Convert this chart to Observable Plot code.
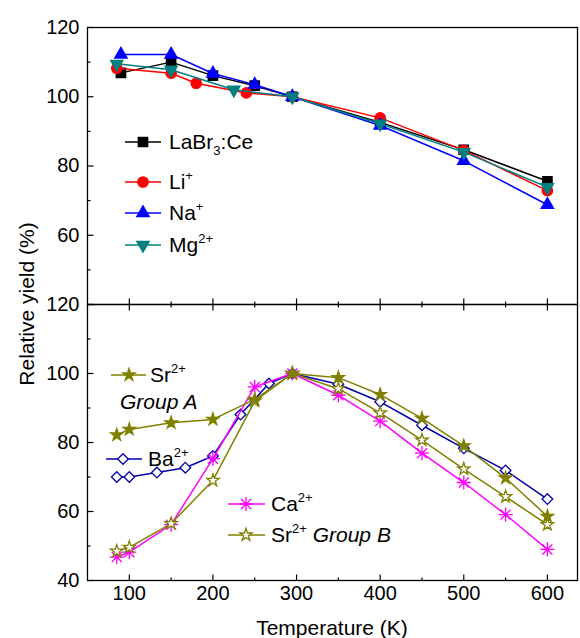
<!DOCTYPE html>
<html><head><meta charset="utf-8">
<script src="https://cdn.jsdelivr.net/npm/d3@7"></script>
<script src="https://cdn.jsdelivr.net/npm/@observablehq/plot@0.6"></script>
<style>
body{margin:0;background:#fff;}
#wrap{position:relative;width:580px;height:638px;font-family:"Liberation Sans",Arial,sans-serif;}
#wrap svg{position:absolute;left:0;overflow:visible;}
</style></head><body><div id="wrap"></div>
<script>
// ---- data (top panel) ----
const tempLaBr = [90,150,200,250,295,400,500,600];
const yieldLaBr = [106.9,110.0,106.1,103.2,100,92.6,84.7,75.6];
const tempLi = [85,150,180,240,295,400,500,600];
const yieldLi = [108.2,106.8,103.9,101.1,100,93.9,84.5,72.9];
const tempNa = [90,150,200,250,295,400,500,600];
const yieldNa = [112.2,112.2,106.7,103.5,100,91.7,81.5,68.8];
const tempMg = [85,150,225,295,400,500,600];
const yieldMg = [109.5,107.8,102,100,92.2,84,73.9];
// ---- data (bottom panel) ----
const tempSrA = [85,100,150,200,250,295,350,400,450,500,550,600];
const yieldSrA = [82.2,83.8,85.7,86.7,92.5,100,98.8,93.9,87,79,69.7,58.6];
const tempBa = [85,100,133,167,200,233,267,295,350,400,450,500,550,600];
const yieldBa = [70,70,71.3,72.7,76.1,88.1,97.1,100,96.9,91.8,85,78.3,71.9,63.6];
const tempCa = [85,100,150,200,250,295,350,400,450,500,550,600];
const yieldCa = [46.8,48.2,56.2,75.3,96.1,100,93.7,86.2,76.9,68.4,59.1,49];
const tempSrB = [85,100,150,200,250,295,350,400,450,500,550,600];
const yieldSrB = [48.5,49.6,56.5,69,92,100,95.6,88.6,80.7,72.3,64.3,56.2];
// ---- ticks ----
const xDomain = [50, 636];
const yDomain = [40, 120];
const xMajor = [100,200,300,400,500,600];
const xMinor = [150,250,350,450,550];
const yMajor = [40,60,80,100,120];
const yMinor = [50,70,90,110];
const yLabelsTop = [60,80,100,120];
const yLabelsBottom = [40,60,80,100,120];

const C = {black:"#000000", red:"#ff0000", blue:"#0000ff", teal:"#008080", olive:"#808000", navy:"#0000a8", magenta:"#ff00ff"};

const triDown = {draw(ctx, size){ const y = -Math.sqrt(size/(Math.sqrt(3)*3)); ctx.moveTo(0,-2*y); ctx.lineTo(-Math.sqrt(3)*y, y); ctx.lineTo(Math.sqrt(3)*y, y); ctx.closePath(); }};
const aster8 = {draw(ctx, size){ const r = Math.sqrt(size)*0.8; for (let k=0;k<4;k++){ const a=k*Math.PI/4; ctx.moveTo(r*Math.cos(a), r*Math.sin(a)); ctx.lineTo(-r*Math.cos(a), -r*Math.sin(a)); } }};

const series = {
  LaBr:{t:tempLaBr, v:yieldLaBr, color:C.black, symbol:"square", d3s:d3.symbolSquare, r:5.3, fill:C.black},
  Li:{t:tempLi, v:yieldLi, color:C.red, symbol:"circle", d3s:d3.symbolCircle, r:5.2, fill:C.red},
  Na:{t:tempNa, v:yieldNa, color:C.blue, symbol:"triangle", d3s:d3.symbolTriangle, r:4.6, fill:C.blue},
  Mg:{t:tempMg, v:yieldMg, color:C.teal, symbol:triDown, d3s:triDown, r:4.6, fill:C.teal},
  Ba:{t:tempBa, v:yieldBa, color:C.navy, symbol:"diamond2", d3s:d3.symbolDiamond2, r:4.8, fill:"white"},
  Ca:{t:tempCa, v:yieldCa, color:C.magenta, symbol:aster8, d3s:aster8, r:5, fill:"none"},
  SrB:{t:tempSrB, v:yieldSrB, color:C.olive, symbol:"star", d3s:d3.symbolStar, r:3.9, fill:"white"},
  SrA:{t:tempSrA, v:yieldSrA, color:C.olive, symbol:"star", d3s:d3.symbolStar, r:3.9, fill:C.olive}
};

function seriesMarks(s){
  return [
    Plot.line(s.v, {x:s.t, y:s.v, stroke:s.color, strokeWidth:1.5}),
    Plot.dot(s.v, {x:s.t, y:s.v, symbol:s.symbol, r:s.r, fill:s.fill, stroke:s.color, strokeWidth:1.3})
  ];
}
const common = {
  width:580, marginLeft:87, marginRight:3,
  x:{domain:xDomain}, y:{domain:yDomain},
  style:{fontSize:"20px", fontFamily:"Liberation Sans, Arial, sans-serif", color:"black", overflow:"visible", background:"transparent"}
};

const topPlot = Plot.plot({
  ...common, height:304, marginTop:27, marginBottom:0,
  marks:[
    Plot.axisY(yLabelsTop, {tickSize:0, tickPadding:8, label:null}),
    Plot.axisX([], {label:null}),
    ...seriesMarks(series.LaBr), ...seriesMarks(series.Li), ...seriesMarks(series.Na), ...seriesMarks(series.Mg),
    Plot.frame({stroke:"black", strokeWidth:1.3})
  ]
});
const bottomPlot = Plot.plot({
  ...common, height:334, marginTop:0, marginBottom:58,
  marks:[
    Plot.axisY(yLabelsBottom, {tickSize:0, tickPadding:8, label:null}),
    Plot.axisX(xMajor, {anchor:"bottom", tickSize:0, tickPadding:5, label:null}),
    ...seriesMarks(series.Ba), ...seriesMarks(series.Ca), ...seriesMarks(series.SrB), ...seriesMarks(series.SrA),
    Plot.frame({stroke:"black", strokeWidth:1.3})
  ]
});
const wrap = document.getElementById("wrap");
const bottomTop = 304;
topPlot.style.top = "0px";
bottomPlot.style.top = bottomTop + "px";
wrap.appendChild(topPlot);
wrap.appendChild(bottomPlot);

// ---- overlay: inward ticks (from Plot's scales), titles and legends ----
const ov = d3.select(wrap).append("svg").attr("width",580).attr("height",638).style("top","0px")
  .style("pointer-events","none").attr("font-family","Liberation Sans, Arial, sans-serif");

const sx = bottomPlot.scale("x"), syT = topPlot.scale("y"), syB = bottomPlot.scale("y");
const xl = sx.range[0] + 0.5;
const xAxisBottom = syB.apply(yDomain[0]) + bottomTop + 0.5;
const divider = syT.apply(yDomain[0]) + 0.5;
const tg = ov.append("g").attr("stroke","black").attr("stroke-width",1.2);
function tick(x1,y1,x2,y2){ tg.append("line").attr("x1",x1).attr("y1",y1).attr("x2",x2).attr("y2",y2); }
for (const [sy, off] of [[syT,0],[syB,bottomTop]]) {
  for (const v of yMajor) { const y = sy.apply(v) + off + 0.5; tick(xl, y, xl + 6, y); }
  for (const v of yMinor) { const y = sy.apply(v) + off + 0.5; tick(xl, y, xl + 3, y); }
}
for (const v of xMajor) { const x = sx.apply(v) + 0.5; tick(x, xAxisBottom, x, xAxisBottom - 6); tick(x, divider - 6, x, divider + 6); }
for (const v of xMinor) { const x = sx.apply(v) + 0.5; tick(x, xAxisBottom, x, xAxisBottom - 3); tick(x, divider - 3, x, divider + 3); }

ov.append("text").attr("x",332).attr("y",635).attr("text-anchor","middle").attr("font-size",21).text("Temperature (K)");
ov.append("text").attr("transform","translate(34,304) rotate(-90)").attr("text-anchor","middle").attr("font-size",21).text("Relative yield (%)");

function richText(x, y, parts, size, italic){
  const t = ov.append("text").attr("x",x).attr("y",y).attr("font-size",size);
  if (italic) t.attr("font-style","italic");
  let shift = 0;
  for (const p of parts){
    const sp = t.append("tspan");
    let target = 0, fs = size;
    if (p.sup){ target = -0.45*size; fs = 0.62*size; }
    if (p.sub){ target = 0.3*size; fs = 0.62*size; }
    sp.attr("dy", target - shift).attr("font-size", fs).attr("font-style", p.italic ? "italic" : null).text(p.t);
    shift = target;
  }
}
function legendItem(s, x1, x2, xm, y, parts, tx){
  ov.append("line").attr("x1",x1).attr("x2",x2).attr("y1",y).attr("y2",y).attr("stroke",s.color).attr("stroke-width",1.5);
  ov.append("path").attr("transform",`translate(${xm},${y})`)
    .attr("d", d3.symbol(s.d3s, Math.PI*s.r*s.r)())
    .attr("fill", s.fill).attr("stroke", s.color).attr("stroke-width",1.3);
  richText(tx, y+7, parts, 21);
}
legendItem(series.LaBr, 125, 161, 143, 142, [{t:"LaBr"},{t:"3",sub:true},{t:":Ce"}], 169);
legendItem(series.Li, 125, 161, 143, 182, [{t:"Li"},{t:"+",sup:true}], 169);
legendItem(series.Na, 125, 161, 143, 213, [{t:"Na"},{t:"+",sup:true}], 169);
legendItem(series.Mg, 125, 161, 143, 245, [{t:"Mg"},{t:"2+",sup:true}], 169);

legendItem(series.SrA, 111, 146, 129, 375, [{t:"Sr"},{t:"2+",sup:true}], 150);
richText(120, 409, [{t:"Group A"}], 21, true);
legendItem(series.Ba, 106, 142, 123, 459, [{t:"Ba"},{t:"2+",sup:true}], 148);
legendItem(series.Ca, 228, 265, 246, 504, [{t:"Ca"},{t:"2+",sup:true}], 271);
legendItem(series.SrB, 228, 265, 246, 535, [{t:"Sr"},{t:"2+",sup:true},{t:" "},{t:"Group B", italic:true}], 271);
</script></body></html>
